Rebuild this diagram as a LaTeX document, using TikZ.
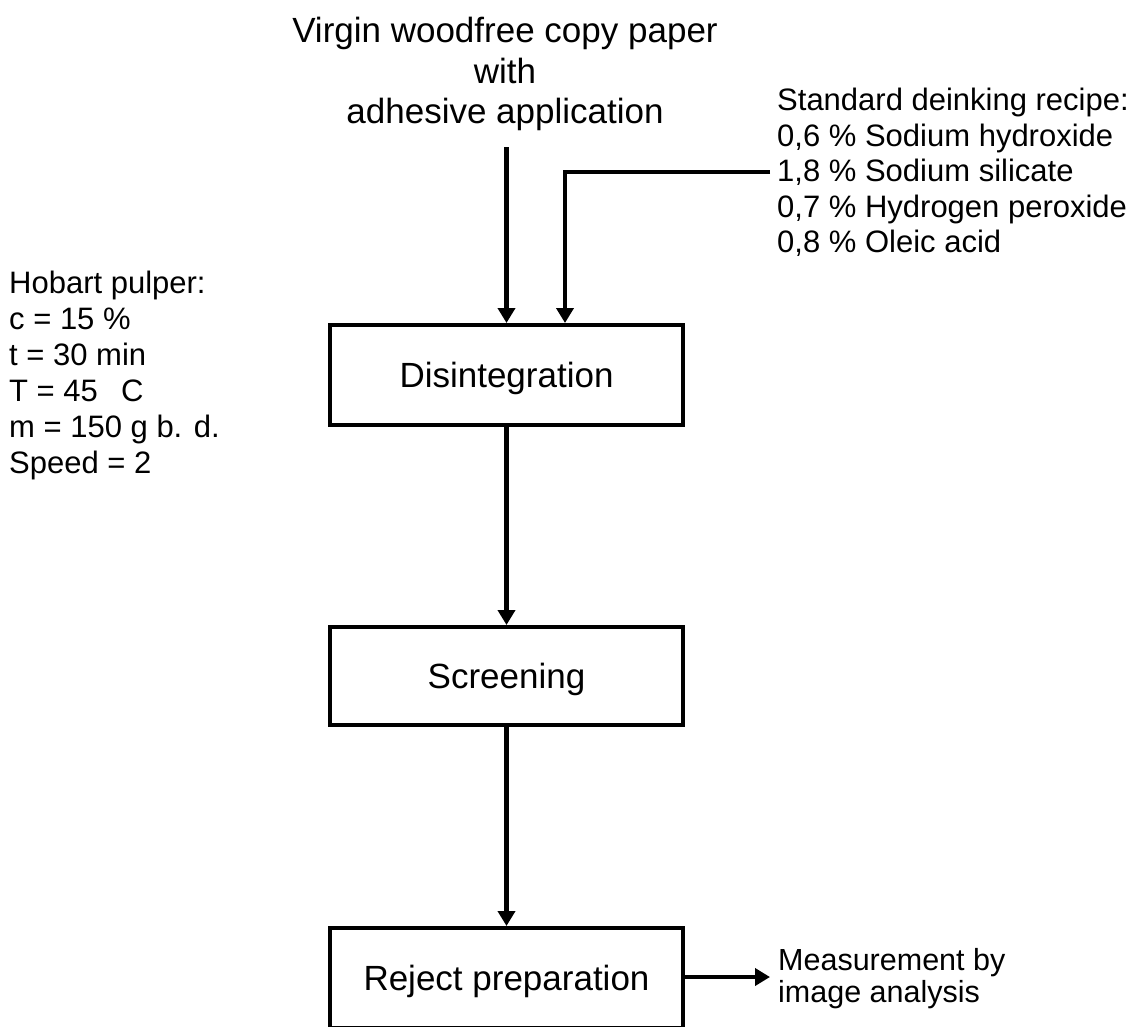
\documentclass[tikz,border=0pt]{standalone}
\usepackage{fontspec}
\setmainfont{Liberation Sans}
\usetikzlibrary{arrows.meta}
\tikzset{
  stepbox/.style={draw=black, line width=4pt, minimum width=353pt, minimum height=100pt,
    inner sep=0pt, text height=25pt, text depth=0pt, font=\fontsize{35}{40}\selectfont},
  arr/.style={line width=4.5pt, -{Triangle[length=15pt,width=17pt]}},
  sidetext/.style={inner sep=0pt, align=left, anchor=north west}
}
\begin{document}
\begin{tikzpicture}[x=1pt,y=-1pt]
\useasboundingbox (0,0) rectangle (1137,1026);
\clip (0,0) rectangle (1137,1026);
% input text
\node[inner sep=0pt, align=center, anchor=north, font=\fontsize{35}{40.5}\selectfont] (inp) at (505,17)
  {Virgin woodfree copy paper\\with\\adhesive application};
% side texts
\node[sidetext, font=\fontsize{31}{36}\selectfont] (hob) at (9,271)
  {Hobart pulper:\\c = 15 \%\\t = 30 min\\T = 45\hspace{0.75em}C\\m = 150 g b. d.\\Speed = 2};
\node[sidetext, font=\fontsize{31}{35.5}\selectfont] (rcp) at (777,88)
  {Standard deinking recipe:\\0,6 \% Sodium hydroxide\\1,8 \% Sodium silicate\\0,7 \% Hydrogen peroxide\\0,8 \% Oleic acid};
\node[sidetext, font=\fontsize{30.5}{32}\selectfont] (mea) at (778,948.5)
  {Measurement by\\image analysis};
% boxes
\node[stepbox] (dis) at (506.5,375) {Disintegration};
\node[stepbox, minimum height=98pt] (scr) at (506.5,676) {Screening};
\node[stepbox] (rej) at (506.5,978) {Reject preparation};
% connectors
\coordinate (s0) at (506.5,147);
\coordinate (s1) at (770,172);
\coordinate (m1) at (770,977);
\draw[arr] (s0) -- (dis.north);
\draw[arr] (s1) -| ([xshift=58.5pt]dis.north);
\draw[arr] (dis.south) -- (scr.north);
\draw[arr] (scr.south) -- (rej.north);
\draw[arr] (rej.east |- m1) -- (m1);
\end{tikzpicture}
\end{document}
